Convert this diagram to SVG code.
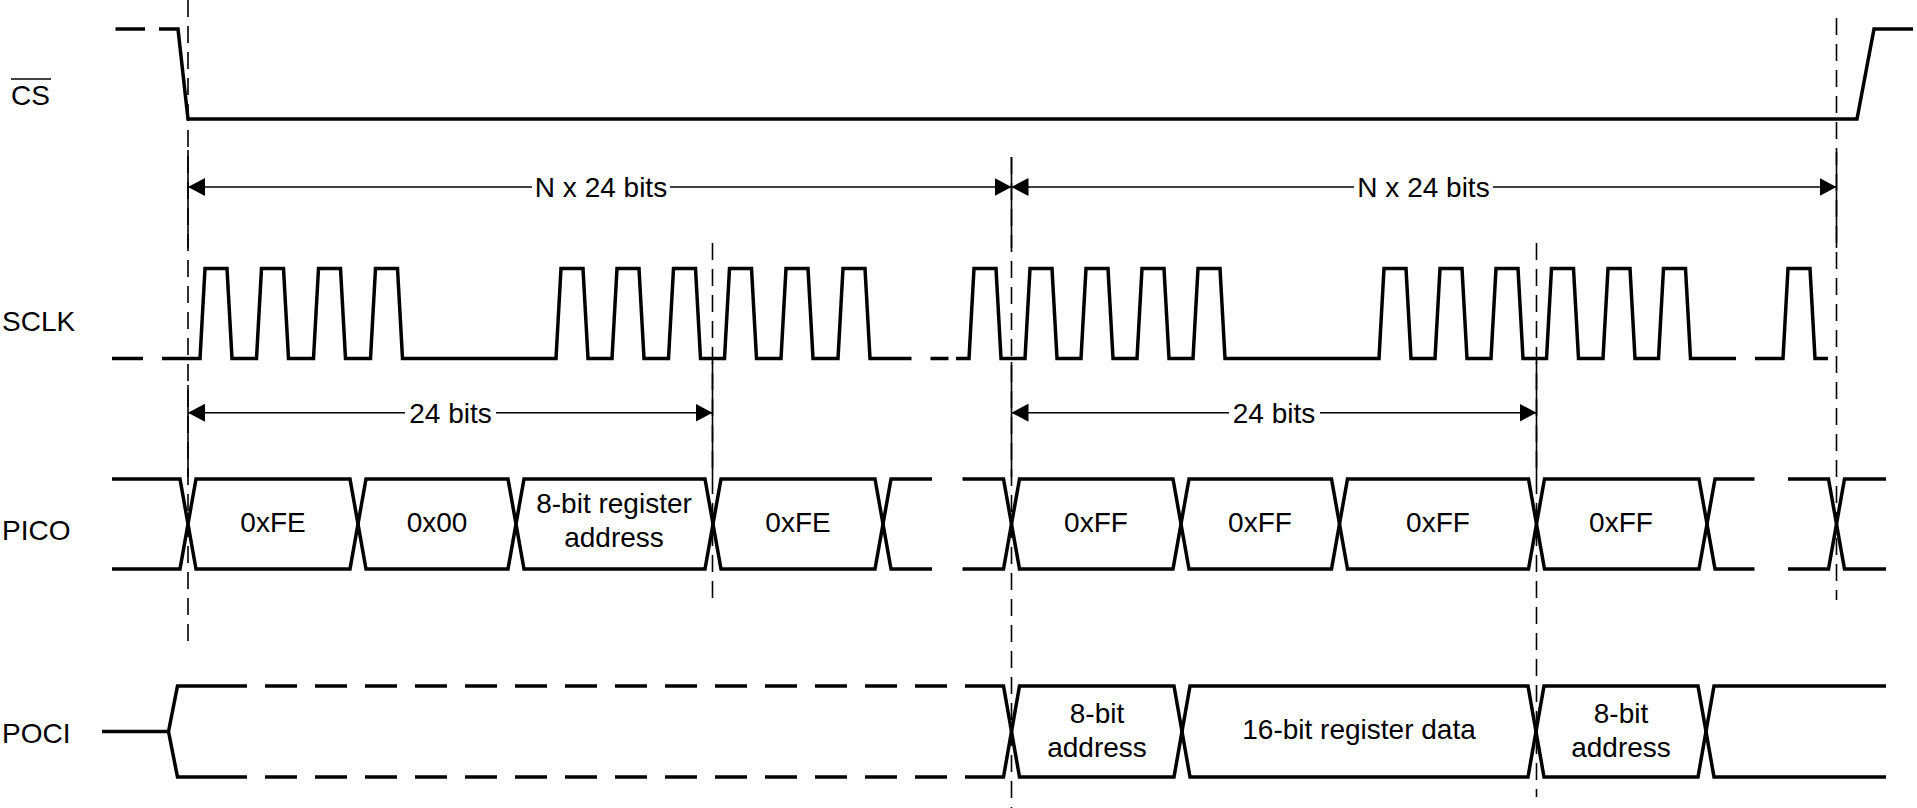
<svg xmlns="http://www.w3.org/2000/svg" width="1917" height="808" viewBox="0 0 1917 808">
  <defs>
    <marker id="ah" markerUnits="userSpaceOnUse" viewBox="0 0 17 18" markerWidth="17" markerHeight="18" refX="17" refY="9" orient="auto-start-reverse">
      <path d="M0,0 L17,9 L0,18 Z" fill="#000"/>
    </marker>
  </defs>
  <style>
    .sig { fill: none; stroke: #000; stroke-width: 3.5; stroke-linejoin: miter; }
    .sigd { fill: none; stroke: #000; stroke-width: 3.5; stroke-dasharray: 32 18; }
    .vd { fill: none; stroke: #000; stroke-width: 1.6; stroke-dasharray: 17 9; }
    .vs { fill: none; stroke: #000; stroke-width: 1.6; }
    .dim { fill: none; stroke: #000; stroke-width: 1.6; marker-start: url(#ah); marker-end: url(#ah); }
    .lbl { font-family: "Liberation Sans", Arial, sans-serif; font-size: 28px; fill: #000; }
    .c { text-anchor: middle; }
    .bg { fill: #fff; }
  </style>
  <rect width="1917" height="808" fill="#fff"/>

  <g id="guides">
    <path class="vd" d="M188,0 V642"/>
    <path class="vd" d="M712.5,243 V600"/>
    <path class="vd" d="M1011.5,157 V808"/>
    <path class="vd" d="M1536.5,243 V797"/>
    <path class="vd" d="M1836.5,18 V600"/>
    <path class="vs" d="M188,150 V248 M188,385 V477"/>
    <path class="vs" d="M712.5,362 V477"/>
    <path class="vs" d="M1011.5,157 V248 M1011.5,362 V477"/>
    <path class="vs" d="M1536.5,362 V477"/>
    <path class="vs" d="M1836.5,152 V248"/>
  </g>

  <g id="labels">
    <text class="lbl" x="11" y="105">CS</text>
    <path d="M11,79 H51" stroke="#000" stroke-width="1.6"/>
    <text class="lbl" x="2" y="331">SCLK</text>
    <text class="lbl" x="2" y="540">PICO</text>
    <text class="lbl" x="2" y="743">POCI</text>
  </g>

  <g id="cs">
    <path class="sig" d="M115.5,29 H145 M159,29 H178 L188,119 H1857 L1874,29 H1913"/>
  </g>

  <g id="sclk">
    <path class="sig" d="M112,358.5 H143 M930.5,358.5 H948.5"/>
    <path class="sig" d="M162,358.5
      L200,358.5 L205,268.5 L227,268.5 L232,358.5
      L256.5,358.5 L261.5,268.5 L283.5,268.5 L288.5,358.5
      L313.5,358.5 L318.5,268.5 L340.5,268.5 L345.5,358.5
      L370.5,358.5 L375.5,268.5 L397.5,268.5 L402.5,358.5
      L556,358.5 L561,268.5 L583,268.5 L588,358.5
      L612,358.5 L617,268.5 L639,268.5 L644,358.5
      L668.5,358.5 L673.5,268.5 L695.5,268.5 L700.5,358.5
      L724.5,358.5 L729.5,268.5 L751.5,268.5 L756.5,358.5
      L781,358.5 L786,268.5 L808,268.5 L813,358.5
      L838,358.5 L843,268.5 L865,268.5 L870,358.5
      L911.5,358.5"/>
    <path class="sig" d="M956,358.5
      L969,358.5 L974,268.5 L996,268.5 L1001,358.5
      L1025,358.5 L1030,268.5 L1052,268.5 L1057,358.5
      L1081,358.5 L1086,268.5 L1108,268.5 L1113,358.5
      L1137,358.5 L1142,268.5 L1164,268.5 L1169,358.5
      L1193,358.5 L1198,268.5 L1220,268.5 L1225,358.5
      L1379,358.5 L1384,268.5 L1406,268.5 L1411,358.5
      L1435,358.5 L1440,268.5 L1462,268.5 L1467,358.5
      L1491,358.5 L1496,268.5 L1518,268.5 L1523,358.5
      L1546.5,358.5 L1551.5,268.5 L1573.5,268.5 L1578.5,358.5
      L1603,358.5 L1608,268.5 L1630,268.5 L1635,358.5
      L1658.5,358.5 L1663.5,268.5 L1685.5,268.5 L1690.5,358.5
      L1736,358.5"/>
    <path class="sig" d="M1755,358.5 L1783,358.5 L1788,268.5 L1810,268.5 L1815,358.5 L1828,358.5"/>
  </g>

  <g id="pico">
    <path class="sig" d="M112,479 H180 L196,569 H350 L366,479 H508 L524,569 H705 L721,479 H875 L891,569 H932"/>
    <path class="sig" d="M112,569 H180 L196,479 H350 L366,569 H508 L524,479 H705 L721,569 H875 L891,479 H932"/>
    <path class="sig" d="M962.5,479 H1003.5 L1019.5,569 H1173 L1189,479 H1331.5 L1347.5,569 H1528.5 L1544.5,479 H1699 L1715,569 H1754.5"/>
    <path class="sig" d="M962.5,569 H1003.5 L1019.5,479 H1173 L1189,569 H1331.5 L1347.5,479 H1528.5 L1544.5,569 H1699 L1715,479 H1754.5"/>
    <path class="sig" d="M1788,479 H1828.5 L1844.5,569 H1886"/>
    <path class="sig" d="M1788,569 H1828.5 L1844.5,479 H1886"/>
    <text class="lbl c" x="273" y="532">0xFE</text>
    <text class="lbl c" x="437" y="532">0x00</text>
    <text class="lbl c" x="614" y="513">8-bit register</text>
    <text class="lbl c" x="614" y="547">address</text>
    <text class="lbl c" x="798" y="532">0xFE</text>
    <text class="lbl c" x="1096" y="532">0xFF</text>
    <text class="lbl c" x="1260" y="532">0xFF</text>
    <text class="lbl c" x="1438" y="532">0xFF</text>
    <text class="lbl c" x="1621" y="532">0xFF</text>
  </g>

  <g id="poci">
    <path class="sig" d="M102,731.5 H168.5 L177.5,686 H247 M168.5,731.5 L177.5,777 H247"/>
    <path class="sigd" d="M265,686 H948 M265,777 H948"/>
    <path class="sig" d="M965,686 H1003.5 L1019.5,777 H1174 L1190,686 H1528 L1544,777 H1698 L1714,686 H1886"/>
    <path class="sig" d="M965,777 H1003.5 L1019.5,686 H1174 L1190,777 H1528 L1544,686 H1698 L1714,777 H1886"/>
    <text class="lbl c" x="1097" y="723">8-bit</text>
    <text class="lbl c" x="1097" y="757">address</text>
    <text class="lbl c" x="1359" y="739">16-bit register data</text>
    <text class="lbl c" x="1621" y="723">8-bit</text>
    <text class="lbl c" x="1621" y="757">address</text>
  </g>

  <g id="connectors">
    <path class="dim" d="M188,187 H1011.5"/>
    <path class="dim" d="M1011.5,187 H1836.5"/>
    <path class="dim" d="M188,412.7 H712.5"/>
    <path class="dim" d="M1011.5,412.7 H1536.5"/>
    <rect class="bg" x="532" y="172" width="138" height="30"/>
    <text class="lbl c" x="601" y="197">N x 24 bits</text>
    <rect class="bg" x="1354" y="172" width="139" height="30"/>
    <text class="lbl c" x="1423.5" y="197">N x 24 bits</text>
    <rect class="bg" x="405" y="398" width="91" height="30"/>
    <text class="lbl c" x="450.5" y="422.5">24 bits</text>
    <rect class="bg" x="1229" y="398" width="91" height="30"/>
    <text class="lbl c" x="1274" y="422.5">24 bits</text>
  </g>
</svg>
